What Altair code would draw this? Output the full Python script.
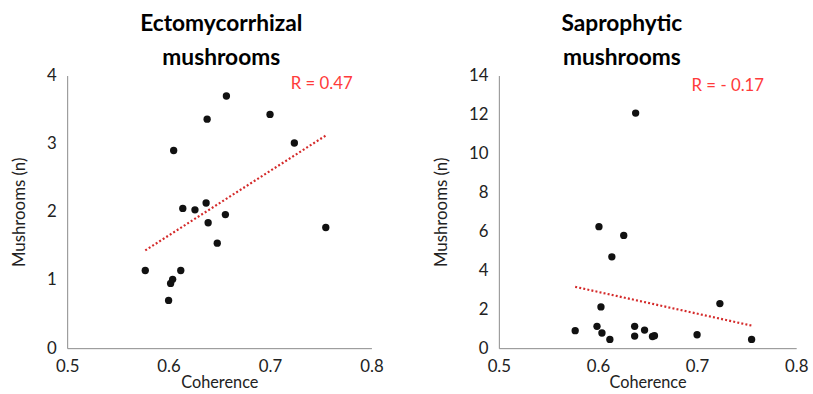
import altair as alt
import pandas as pd

# Ectomycorrhizal panel
ecto_x = [0.577, 0.600, 0.602, 0.604, 0.605, 0.612, 0.614, 0.626, 0.637, 0.638,
          0.639, 0.648, 0.656, 0.657, 0.700, 0.724, 0.755]
ecto_y = [1.14, 0.70, 0.95, 1.01, 2.90, 1.14, 2.05, 2.03, 2.13, 3.36,
          1.84, 1.54, 1.96, 3.70, 3.43, 3.01, 1.77]
# Saprophytic panel
sapro_x = [0.577, 0.599, 0.601, 0.603, 0.604, 0.612, 0.614, 0.626, 0.637, 0.637,
           0.638, 0.647, 0.655, 0.657, 0.700, 0.723, 0.755]
sapro_y = [0.90, 1.12, 6.24, 2.12, 0.78, 0.45, 4.69, 5.79, 1.12, 0.62,
           12.07, 0.93, 0.60, 0.64, 0.69, 2.29, 0.45]

titles = [["Ectomycorrhizal", "mushrooms"], ["Saprophytic", "mushrooms"]]
r_labels = ["R = 0.47", "R = - 0.17"]
r_pos_x = [0.751, 0.731]
r_pos_y = [3.88, 13.48]
y_max = [4, 14]
y_ticks = [[0, 1, 2, 3, 4], [0, 2, 4, 6, 8, 10, 12, 14]]
x_ticks = [0.5, 0.6, 0.7, 0.8]

FONT = "Lato"


def panel(xs, ys, title, rlab, rx, ry, ymax, yticks, width, title_dx):
    df = pd.DataFrame({"x": xs, "y": ys})
    xenc = alt.X("x:Q", scale=alt.Scale(domain=[0.5, 0.8], nice=False),
                 axis=alt.Axis(title="Coherence", values=x_ticks, format=".1f",
                               grid=False, ticks=False, domainColor="#8a8a8a",
                               labelFontSize=17, titleFontSize=16.5, labelColor="#222",
                               titleColor="#222", labelPadding=11, titlePadding=0,
                               titleFontWeight="normal", labelFlush=False,
                               labelOverlap=False))
    yenc = alt.Y("y:Q", scale=alt.Scale(domain=[0, ymax], nice=False),
                 axis=alt.Axis(title="Mushrooms (n)", values=yticks, format="d",
                               grid=False, ticks=False, domainColor="#8a8a8a",
                               labelFontSize=17, titleFontSize=17, labelColor="#222",
                               titleColor="#222", labelPadding=11, titlePadding=18,
                               titleFontWeight="normal", labelOverlap=False,
                               labelFlush=False))
    base = alt.Chart(df)
    pts = base.mark_circle(size=55, color="#111", opacity=1).encode(x=xenc, y=yenc)
    trend = base.transform_regression("x", "y").mark_line(
        color="#d42a2a", strokeWidth=2.2, strokeDash=[2, 2.2]
    ).encode(x=xenc, y=yenc)
    ann_df = pd.DataFrame({"x": [rx], "y": [ry], "t": [rlab]})
    ann = alt.Chart(ann_df).mark_text(color="#ff3b3b", fontSize=17, font=FONT).encode(
        x=xenc, y=yenc, text="t:N")
    return alt.layer(trend, pts, ann).properties(
        width=width, height=276,
        title=alt.TitleParams(title, fontSize=23, font=FONT, fontWeight="bold",
                              anchor="middle", color="#000", offset=-3, dx=title_dx,
                              lineHeight=34))


left = panel(ecto_x, ecto_y, titles[0], r_labels[0], r_pos_x[0], r_pos_y[0],
             y_max[0], y_ticks[0], 308, 2)
right = panel(sapro_x, sapro_y, titles[1], r_labels[1], r_pos_x[1], r_pos_y[1],
              y_max[1], y_ticks[1], 301, -26)

chart = alt.hconcat(left, right, spacing=50).properties(
    padding={"left": 11, "top": 11, "right": 5, "bottom": 5}
).configure_view(stroke=None).configure_axis(labelFont=FONT, titleFont=FONT)

chart.save("out.html", embed_options={"renderer": "svg", "actions": False})
